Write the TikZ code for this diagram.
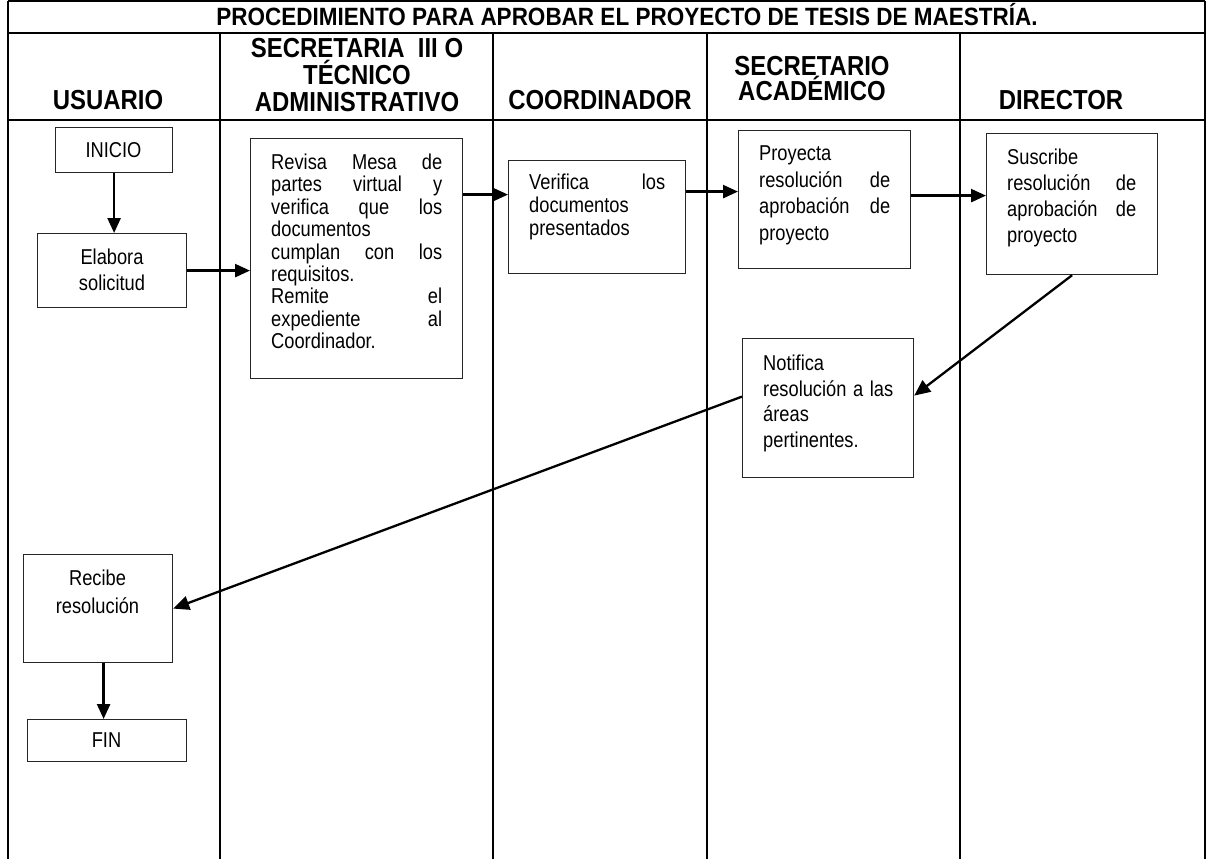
\documentclass[tikz,border=0pt]{standalone}
\usepackage{fontspec}
\setmainfont{Liberation Sans}
% narrow-set faces: tall glyphs at the set widths
\newfontfamily\tallfont{Liberation Sans}[FakeStretch=0.85]
\newfontfamily\headfont{Liberation Sans}[FakeStretch=0.87]
\newfontfamily\titlefont{Liberation Sans}[FakeStretch=0.9]
\usetikzlibrary{arrows.meta,calc}

\begin{document}
\begin{tikzpicture}[x=1pt,y=-1pt,
  rule/.style={line width=2pt,black},
  stepbox/.style={draw=black!85,line width=1.2pt,rectangle,inner sep=0pt,anchor=north west},
  body/.style={inner sep=0pt,anchor=base west,align=left,font=\tallfont\fontsize{21.5}{#1}\selectfont},
  cbody/.style={inner sep=0pt,anchor=base,align=center,font=\tallfont\fontsize{21.5}{#1}\selectfont},
  head/.style={inner sep=0pt,anchor=base,align=center,font=\headfont\bfseries\fontsize{27.5}{#1}\selectfont},
  flow/.style={line width=2.5pt,-{Triangle[length=15pt,width=13pt]}},
  slant/.style={line width=2.3pt,-{Triangle[length=16pt,width=14pt]}}
]
\useasboundingbox (0,0) rectangle (1213,859);

% table frame
\draw[rule] (8,1) -- (1205,1);
\draw[rule] (8,33) -- (1205,33);
\draw[rule] (8,120) -- (1205,120);
\draw[rule] (8,1) -- (8,862);
\draw[rule] (1205,1) -- (1205,862);
\foreach \xx in {220,493,707,960} \draw[rule] (\xx,33) -- (\xx,862);

% title and lane headers (multi-line nodes sit on their last baseline)
\node[inner sep=0pt,anchor=base,font=\titlefont\bfseries\fontsize{25}{26}\selectfont] (title) at (627,26) {PROCEDIMIENTO PARA APROBAR EL PROYECTO DE TESIS DE MAESTRÍA.};
\node[head=27] (hUsu) at (108,110) {USUARIO};
\node[head=27] (hSec) at (357,111) {SECRETARIA\ \ III O\\TÉCNICO\\ADMINISTRATIVO};
\node[head=27] (hCoo) at (600,110) {COORDINADOR};
\node[head=25] (hAca) at (812,100) {SECRETARIO\\ACADÉMICO};
\node[head=27] (hDir) at (1061,110) {DIRECTOR};

% process boxes
\node[stepbox,minimum width=117pt,minimum height=45pt] (ini) at (55,127) {};
\node[cbody=26] (iniT) at (113.5,157.5) {INICIO};

\node[stepbox,minimum width=149pt,minimum height=74pt] (ela) at (37,233) {};
\node[cbody=26] (elaT) at (112,290.5) {Elabora\\solicitud};

\node[stepbox,minimum width=212pt,minimum height=240pt] (rev) at (250,138) {};
\node[body=22.4,text width=171pt] (revT) at (271,169.5) {Revisa\hfill Mesa\hfill de\\partes\hfill virtual\hfill y\\verifica\hfill que\hfill los\\documentos\\cumplan\hfill con\hfill los\\requisitos.\\Remite\hfill el\\expediente\hfill al\\Coordinador.};

\node[stepbox,minimum width=177pt,minimum height=113pt] (ver) at (508,160) {};
\node[body=23,text width=136pt] (verT) at (529,189.5) {Verifica\hfill los\\documentos\\presentados};

\node[stepbox,minimum width=172pt,minimum height=138pt] (pro) at (738,130) {};
\node[body=26.7,text width=131pt] (proT) at (759,160.5) {Proyecta\\resolución\hfill de\\aprobación\hfill de\\proyecto};

\node[stepbox,minimum width=171pt,minimum height=141pt] (sus) at (986,133) {};
\node[body=26,text width=129pt] (susT) at (1007,164.5) {Suscribe\\resolución\hfill de\\aprobación\hfill de\\proyecto};

\node[stepbox,minimum width=171pt,minimum height=139pt] (not) at (742,338) {};
\node[body=25.5,text width=130pt] (notT) at (763,370.5) {Notifica\\resolución\hfill a\hfill las\\áreas\\pertinentes.};

\node[stepbox,minimum width=149pt,minimum height=108pt] (rec) at (23,554) {};
\node[cbody=28] (recT) at (97.5,613.5) {Recibe\\resolución};

\node[stepbox,minimum width=159pt,minimum height=42pt] (fin) at (27,719) {};
\node[cbody=26] (finT) at (106.5,747.5) {FIN};

% connectors
\draw[flow] (ini.south) -- (ini.south |- ela.north);
\draw[flow] (ela.east) -- (rev.west |- ela.east);
\draw[flow] ([yshift=64pt]rev.east) -- ([yshift=22.5pt]ver.west);
\draw[flow] ([yshift=25.5pt]ver.east) -- ([yshift=8pt]pro.west);
\draw[flow] ([yshift=4pt]pro.east) -- ([yshift=8.5pt]sus.west);
\draw[slant] (sus.south) -- ([yshift=12.5pt]not.east);
\draw[slant] ([yshift=11.5pt]not.west) -- (rec.east);
\draw[flow] ([xshift=5.5pt]rec.south) -- ([xshift=5.5pt]rec.south |- fin.north);
\end{tikzpicture}
\end{document}
